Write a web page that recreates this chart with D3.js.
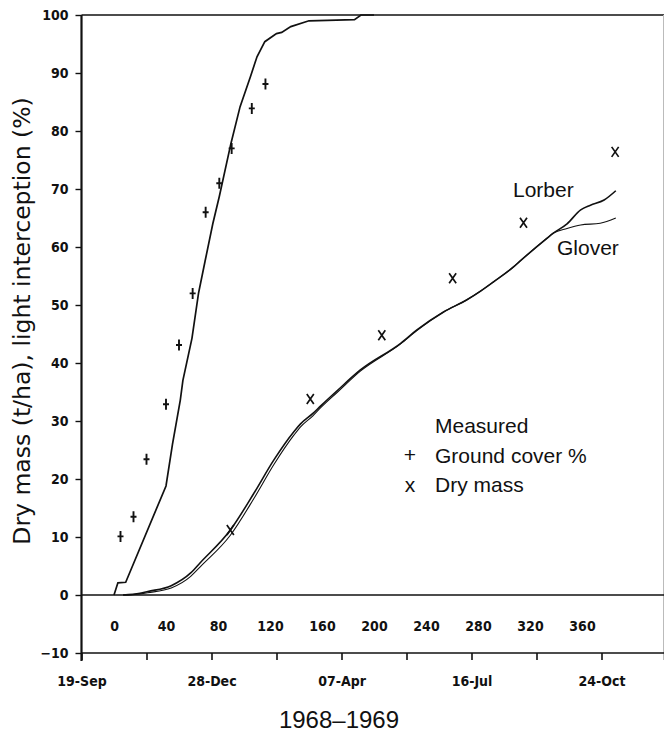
<!DOCTYPE html>
<html>
<head>
<meta charset="utf-8">
<script src="https://cdn.jsdelivr.net/npm/d3@7"></script>
<style>
  html, body { margin: 0; padding: 0; background: #fff; }
  svg { display: block; }
  .tick text { font-family: 'DejaVu Sans Condensed', 'DejaVu Sans', sans-serif; font-stretch: condensed; font-weight: bold; font-size: 14px; fill: #111; }
  .lab { font-family: 'Liberation Sans', Arial, sans-serif; fill: #111; }
  .title { font-family: 'DejaVu Sans', sans-serif; fill: #111; }
</style>
</head>
<body>
<svg id="chart" width="664" height="734"></svg>
<script>
// ---- data ----
// bottom date axis: days since 19-Sep-1968, ticks every 50 days
const dateTickDays = [0, 50, 100, 150, 200, 250, 300, 350, 400, 450];
const dateTickLabels = ["19-Sep", "", "28-Dec", "", "07-Apr", "", "16-Jul", "", "24-Oct", ""];
// inner day axis (day 0 = 14-Oct-1968)
const dayOffset = 25;
const dayTicks = [0, 40, 80, 120, 160, 200, 240, 280, 320, 360];
const yTicks = [-10, 0, 10, 20, 30, 40, 50, 60, 70, 80, 90, 100];

// simulated light interception / ground cover (%)
const gcDays = [0, 3, 9, 40, 45, 51, 53, 60, 65, 70, 76, 81, 90, 97, 105, 110, 116, 125, 129, 136, 150, 185, 190, 200];
const gcVals = [0, 2.1, 2.2, 18.8, 26, 33.6, 37, 44.3, 52, 57.5, 64, 68.7, 77.9, 84.2, 89.4, 92.8, 95.4, 96.8, 97, 98, 99, 99.2, 100, 100];
// measured ground cover (%)
const gcObsDays = [5, 15, 25, 40, 50, 60.5, 70.5, 81, 90.5, 106, 116.5];
const gcObsVals = [10.1, 13.5, 23.4, 32.9, 43.1, 52, 66, 71, 77, 83.9, 88.1];

// simulated dry mass (t/ha), Lorber
const lorberDays = [7, 20, 26, 44, 59, 66.5, 89.5, 107.5, 123, 138.5, 143.5, 153, 159, 172, 189.5, 220.5, 233, 253.5, 271.5, 282, 292, 307.5, 312.5, 333, 338, 348.5, 359, 366.5, 377, 386];
const lorberVals = [0, 0.3, 0.6, 1.6, 3.8, 5.6, 11.2, 17.5, 23.3, 28.2, 29.5, 31.3, 32.6, 35.3, 38.8, 43.4, 45.7, 48.8, 50.9, 52.4, 54, 56.6, 57.6, 61.5, 62.4, 64, 66.4, 67.2, 68.1, 69.7];
// simulated dry mass (t/ha), Glover
const gloverDays = [7, 20, 26, 44, 59, 66.5, 89.5, 107.5, 123, 138.5, 143.5, 153, 159, 172, 189.5, 220.5, 233, 253.5, 271.5, 282, 292, 307.5, 312.5, 333, 338, 348.5, 359, 374, 386];
const gloverVals = [0, 0.2, 0.4, 1.2, 3.2, 4.9, 10.3, 16.6, 22.5, 27.6, 29.0, 30.9, 32.3, 35.0, 38.6, 43.3, 45.6, 48.8, 50.9, 52.4, 54, 56.6, 57.6, 61.5, 62.4, 63.2, 63.8, 64.1, 65];
// measured dry mass (t/ha)
const dmObsDays = [89.5, 151, 206, 260.5, 315, 385.5];
const dmObsVals = [11.2, 33.8, 44.8, 54.6, 64.2, 76.4];

// ---- layout ----
const svg = d3.select("#chart");
const x0 = 81.5, x1 = 664, yTop = 15, yBot = 653;
const xDate = d3.scaleLinear().domain([0, 448]).range([x0, x0 + 448 * 1.3]);
const xDay = d => xDate(d + dayOffset);
const y = d3.scaleLinear().domain([-10, 100]).range([yBot, yTop]);

// frame lines
svg.append("line").attr("x1", x0).attr("x2", x1).attr("y1", yTop).attr("y2", yTop)
  .attr("stroke", "#111").attr("stroke-width", 1.6);
svg.append("line").attr("x1", 663.5).attr("x2", 663.5).attr("y1", yTop).attr("y2", 660)
  .attr("stroke", "#bbb").attr("stroke-width", 1);
svg.append("line").attr("x1", x0).attr("x2", x1).attr("y1", y(0)).attr("y2", y(0))
  .attr("stroke", "#111").attr("stroke-width", 1.6);

// y axis
const yAxis = d3.axisLeft(y).tickValues(yTicks).tickSize(6).tickPadding(7).tickFormat(d3.format("d"));
const gy = svg.append("g").attr("transform", `translate(${x0},0)`).call(yAxis);
gy.select(".domain").remove();
gy.selectAll(".tick line").attr("stroke", "#111").attr("stroke-width", 1.4);
svg.append("line").attr("x1", x0).attr("x2", x0).attr("y1", yTop).attr("y2", 661)
  .attr("stroke", "#111").attr("stroke-width", 2.2);

// bottom date axis
const xAxis = d3.axisBottom(xDate).tickValues(dateTickDays).tickSize(7).tickPadding(16)
  .tickFormat((d, i) => dateTickLabels[i]);
const gx = svg.append("g").attr("transform", `translate(0,${yBot})`).call(xAxis);
gx.select(".domain").remove();
gx.selectAll(".tick line").attr("stroke", "#111").attr("stroke-width", 1.6);
svg.append("line").attr("x1", x0).attr("x2", x1).attr("y1", yBot).attr("y2", yBot)
  .attr("stroke", "#111").attr("stroke-width", 1.6);

// inner day-number axis
const dayScale = d3.scaleLinear().domain([0, 360]).range([xDay(0), xDay(360)]);
const dAxis = d3.axisBottom(dayScale).tickValues(dayTicks).tickSize(0).tickPadding(26).tickFormat(d3.format("d"));
const gd = svg.append("g").attr("transform", `translate(0,${y(0)})`).call(dAxis);
gd.select(".domain").remove();

// curves
const lineGc = d3.line().x(d => xDay(d[0])).y(d => y(d[1])).curve(d3.curveLinear);
const lineDm = d3.line().x(d => xDay(d[0])).y(d => y(d[1])).curve(d3.curveMonotoneX);

svg.append("path").datum(gcDays.map((d, i) => [d, gcVals[i]]))
  .attr("d", lineGc).attr("fill", "none").attr("stroke", "#111").attr("stroke-width", 1.7);
svg.append("path").datum(gloverDays.map((d, i) => [d, gloverVals[i]]))
  .attr("d", lineDm).attr("fill", "none").attr("stroke", "#111").attr("stroke-width", 1.1);
svg.append("path").datum(lorberDays.map((d, i) => [d, lorberVals[i]]))
  .attr("d", lineDm).attr("fill", "none").attr("stroke", "#111").attr("stroke-width", 1.6);

// measured ground cover "+"
svg.selectAll("path.gc").data(gcObsDays.map((d, i) => [d, gcObsVals[i]])).enter()
  .append("path").attr("class", "gc")
  .attr("transform", d => `translate(${xDay(d[0])},${y(d[1])})`)
  .attr("d", "M0,-5.5V5.5M-3,0H3").attr("stroke", "#111").attr("stroke-width", 1.9).attr("fill", "none");

// measured dry mass "x"
svg.selectAll("path.dm").data(dmObsDays.map((d, i) => [d, dmObsVals[i]])).enter()
  .append("path").attr("class", "dm")
  .attr("transform", d => `translate(${xDay(d[0])},${y(d[1])})`)
  .attr("d", "M-3.5,-5L3.5,5M3.5,-5L-3.5,5").attr("stroke", "#111").attr("stroke-width", 1.7).attr("fill", "none");

// texts
svg.append("text").attr("class", "title").attr("transform", "translate(30,321) rotate(-90)")
  .attr("text-anchor", "middle").attr("font-size", 23.5).text("Dry mass (t/ha), light interception (%)");
svg.append("text").attr("class", "lab").attr("x", 339).attr("y", 728)
  .attr("text-anchor", "middle").attr("font-size", 24).text("1968\u20131969");

svg.append("text").attr("class", "lab").attr("x", 513).attr("y", 197).attr("font-size", 21).text("Lorber");
svg.append("text").attr("class", "lab").attr("x", 557).attr("y", 255).attr("font-size", 21).text("Glover");

svg.append("text").attr("class", "lab").attr("x", 435).attr("y", 433).attr("font-size", 21).text("Measured");
svg.append("text").attr("class", "lab").attr("x", 410).attr("y", 462).attr("text-anchor", "middle").attr("font-size", 21).text("+");
svg.append("text").attr("class", "lab").attr("x", 435).attr("y", 463).attr("font-size", 21).text("Ground cover %");
svg.append("text").attr("class", "lab").attr("x", 410).attr("y", 492).attr("text-anchor", "middle").attr("font-size", 21).text("x");
svg.append("text").attr("class", "lab").attr("x", 435).attr("y", 492).attr("font-size", 21).text("Dry mass");
</script>
</body>
</html>
